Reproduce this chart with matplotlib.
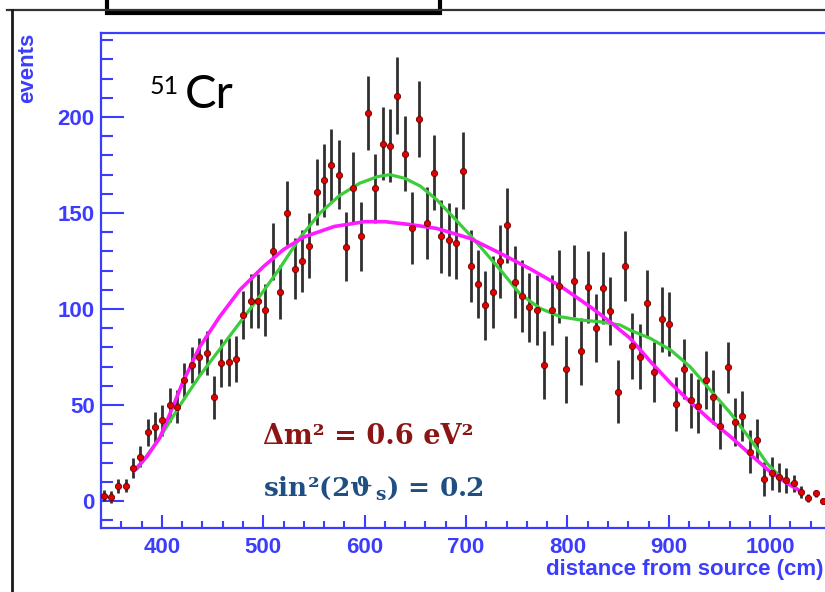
import numpy as np
import matplotlib
matplotlib.use("Agg")
import matplotlib.pyplot as plt
from matplotlib.lines import Line2D
from matplotlib.patches import Rectangle
from matplotlib.ticker import MultipleLocator

plt.rcParams['font.family'] = ['Liberation Sans', 'DejaVu Sans']
plt.rcParams['mathtext.fontset'] = 'custom'
plt.rcParams['mathtext.rm'] = 'DejaVu Serif:bold'
plt.rcParams['mathtext.it'] = 'DejaVu Serif:bold'
plt.rcParams['mathtext.bf'] = 'DejaVu Serif:bold'

# histogram bins (cm)
bin_first = 342.7
bin_step = 7.24

counts = [2.8, 2.2, 7.8, 8.0, 17.2, 23.1, 35.9, 38.7, 42, 50,
          49.1, 63, 71, 75, 77, 54, 72, 72.6, 74, 97,
          104, 104, 99.5, 130, 109, 150, 121, 125, 133, 161,
          167, 175, 170, 132.5, 163, 138, 202, 163, 186, 185,
          211, 181, 142, 199, 145, 171, 138, 136, 134.5, 172,
          122.6, 113, 102, 109, 125, 143.6, 114, 107, 101, 99.5,
          71, 99.5, 112, 68.6, 114.7, 78, 111.6, 90, 111, 99,
          57, 122.6, 80.7, 75.2, 103, 67.4, 94.6, 92.2, 50.5, 68.8,
          52.6, 49.5, 63, 54.3, 39.2, 69.6, 41.3, 44.4, 25.7, 31.8,
          11.5, 14.4, 12.3, 10.9, 9.2, 4.8, 1.7, 4, 0.2]

errors = [3, 3, 3.5, 3.5, 5, 5.5, 7, 7.8, 8, 8.7,
          8.5, 9, 9.5, 10, 11.5, 11, 12.5, 12.5, 12, 12.6,
          14, 14, 13.5, 15, 14, 16.5, 16, 16, 17, 17.4,
          19, 18.7, 18, 17.8, 18.7, 18, 19.3, 18, 19, 19,
          20, 19.5, 18.7, 20, 18.7, 19.5, 19, 19, 18.7, 20,
          18.7, 17.8, 18, 18.7, 19, 19.5, 18.7, 18.7, 18, 18,
          17.8, 18, 19, 17.4, 18.7, 17.4, 18.7, 17.8, 18.7, 17.8,
          16.5, 18.2, 17, 17, 17.4, 15.6, 17, 16.5, 14, 15.6,
          14.3, 14, 15, 14, 12, 13.5, 12.6, 13, 11.3, 11,
          9, 8.7, 7.4, 6.5, 4.5, 3, 2, 2, 1.5]

# oscillation fit (green) and no-oscillation fit (magenta)
green_x = [376, 398, 418, 437, 457, 477, 497, 516, 536, 556, 575, 595, 613, 625,
           640, 655, 671, 689, 704, 717, 734, 753, 773, 793, 813, 832, 852, 862,
           882, 902, 921, 941, 961, 981, 997, 1010, 1027]
green_y = [17, 33, 50, 65, 79, 93, 107, 121, 137, 150, 159, 165.5, 169, 170,
           168, 164, 157, 147, 138.5, 130.7, 120.3, 108, 100.4, 96, 94.3, 93.4, 91.7, 89,
           84.7, 78.6, 70, 57.8, 45.7, 31.8, 19.6, 12.7, 6.1]

mag_x = [373, 385, 398, 410, 420, 437, 457, 477, 500, 520, 540, 570, 600, 620,
         645, 671, 704, 734, 763, 793, 823, 842, 862, 882, 902, 921, 941, 961,
         981, 1000, 1017, 1027]
mag_y = [16, 23, 33, 48, 61, 80, 96, 110, 122, 131, 137.5, 143, 145.5, 145.5,
         144, 142, 136.8, 129, 121, 112, 101, 93.4, 84.7, 72.6, 61.3, 51.7, 42.2, 33.5,
         24, 15.3, 9.2, 6.1]

dist = bin_first + bin_step * np.arange(len(counts))

blue = '#3c3cff'
W, H = 825, 592

fig = plt.figure(figsize=(W / 100, H / 100), dpi=100)
ax = fig.add_axes([101 / W, 64 / H, 729 / W, 495 / H])

ax.errorbar(dist, counts, yerr=errors, fmt='none', ecolor='#303030', elinewidth=2, zorder=2)
ax.plot(green_x, green_y, color='#3ccc3c', lw=2.3, zorder=3)
ax.plot(mag_x, mag_y, color='#ff1aff', lw=2.6, zorder=3)
ax.plot(dist, counts, 'o', ms=4.5, mfc='#e00000', mec='#6a0000', mew=0.6, zorder=4)

ax.set_xlim(340, 1059)
ax.set_ylim(-14, 243.75)
ax.xaxis.set_major_locator(MultipleLocator(100))
ax.xaxis.set_minor_locator(MultipleLocator(20))
ax.yaxis.set_major_locator(MultipleLocator(50))
ax.yaxis.set_minor_locator(MultipleLocator(10))

ax.tick_params(which='both', direction='in', colors=blue, width=1.5, labelsize=16)
ax.tick_params(axis='y', which='major', length=16.5, pad=4.5)
ax.tick_params(axis='y', which='minor', length=8.5)
ax.tick_params(axis='x', which='major', length=9.5, pad=6.5)
ax.tick_params(axis='x', which='minor', length=5)
for lab in ax.get_xticklabels() + ax.get_yticklabels():
    lab.set_fontweight('bold')
for s in ax.spines.values():
    s.set_color(blue)
    s.set_linewidth(1.6)

fig.text(28 / W, 1 - 33 / H, 'events', rotation=90, ha='center', va='top',
         color=blue, fontsize=16, fontweight='bold')
fig.text(823 / W, 1 - 569 / H, 'distance from source (cm)', ha='right', va='center',
         color=blue, fontsize=16, fontweight='bold')

# isotope label
fig.text(150 / W, 1 - 75 / H, '51', ha='left', va='top', fontsize=18, family='Lato')
fig.text(185 / W, 1 - 108 / H, 'Cr', ha='left', va='baseline', fontsize=34, family='Lato')

fig.text(263 / W, 1 - 437 / H, 'Δm² = 0.6 eV²', ha='left', va='center',
         family='DejaVu Serif', fontweight='bold', fontsize=19.5, color='#8b1414')
fig.text(263 / W, 1 - 488 / H, r'sin²(2$\vartheta_{\,\mathrm{s}}$) = 0.2', ha='left', va='center',
         family='DejaVu Serif', fontweight='bold', fontsize=19, color='#1f4f82')

# slide frame around the plot
fig.add_artist(Line2D([7 / W, 1], [1 - 10 / H, 1 - 10 / H], color='#333333', lw=1.6))
fig.add_artist(Line2D([11.5 / W, 11.5 / W], [0, 1 - 10 / H], color='#1a1a1a', lw=2))
fig.add_artist(Rectangle((106.5 / W, 1 - 12.5 / H), (440 - 106.5) / W, 0.1,
                         transform=fig.transFigure, facecolor='white',
                         edgecolor='black', lw=3))

fig.savefig('out.png', dpi=100)
